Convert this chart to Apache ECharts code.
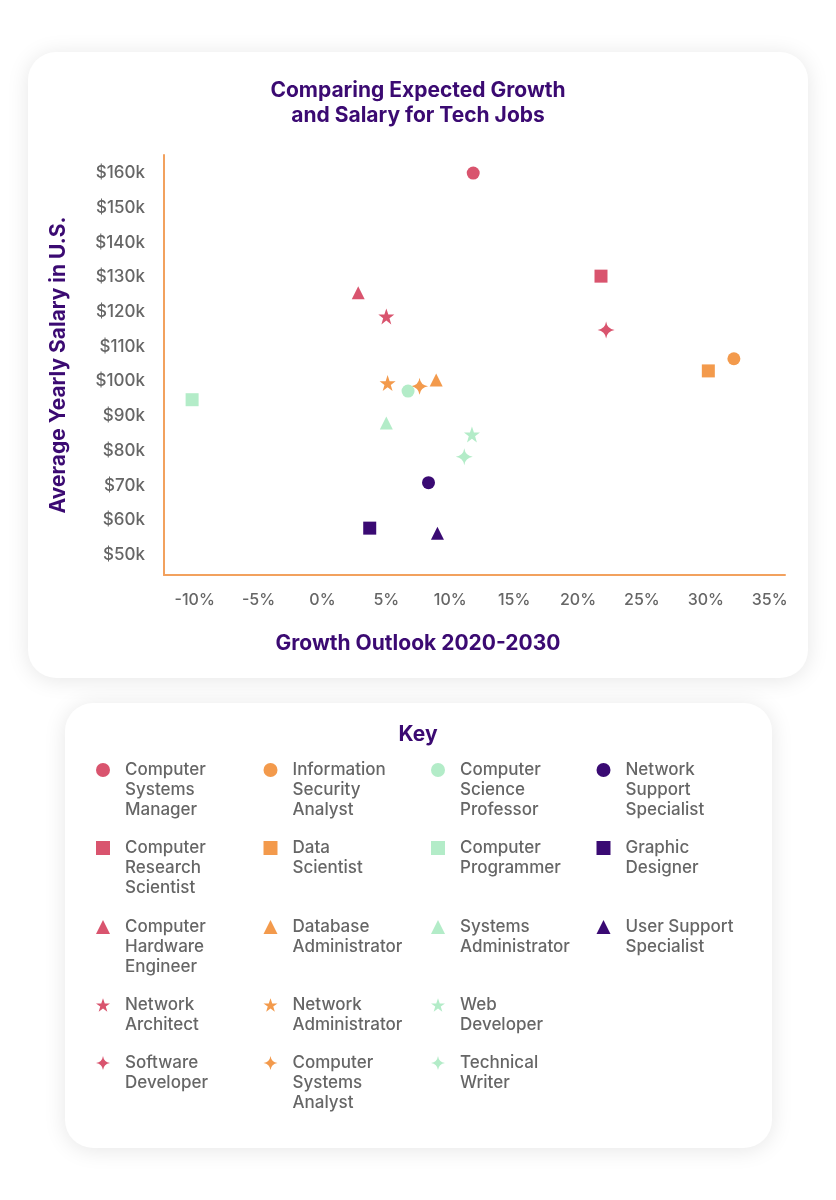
<!DOCTYPE html>
<html lang="en">
<head>
<meta charset="UTF-8">
<title>Comparing Expected Growth and Salary for Tech Jobs</title>
<style>
body { margin: 0; background: #fff; }
#chart { width: 836px; height: 1200px; }
</style>
</head>
<body>
<div id="chart"></div>
<script src="https://cdn.jsdelivr.net/npm/echarts@6/dist/echarts.min.js"></script>
<script>
// jobs, growth outlook 2020-2030 (%) and average yearly salary (thousand $)
var jobs = [
    'Computer Systems Manager', 'Computer Research Scientist', 'Computer Hardware Engineer', 'Network Architect', 'Software Developer',
    'Information Security Analyst', 'Data Scientist', 'Database Administrator', 'Network Administrator', 'Computer Systems Analyst',
    'Computer Science Professor', 'Computer Programmer', 'Systems Administrator', 'Web Developer', 'Technical Writer',
    'Network Support Specialist', 'Graphic Designer', 'User Support Specialist'
];
var keyLabels = [
    'Computer\nSystems\nManager', 'Computer\nResearch\nScientist', 'Computer\nHardware\nEngineer', 'Network\nArchitect', 'Software\nDeveloper',
    'Information\nSecurity\nAnalyst', 'Data\nScientist', 'Database\nAdministrator', 'Network\nAdministrator', 'Computer\nSystems\nAnalyst',
    'Computer\nScience\nProfessor', 'Computer\nProgrammer', 'Systems\nAdministrator', 'Web\nDeveloper', 'Technical\nWriter',
    'Network\nSupport\nSpecialist', 'Graphic\nDesigner', 'User Support\nSpecialist'
];
var growth = [11.8, 21.8, 2.8, 5.0, 22.2, 32.2, 30.2, 8.9, 5.1, 7.6, 6.7, -10.2, 5.0, 11.7, 11.1, 8.3, 3.7, 9.0];
var salary = [160, 130.3, 125.5, 118.7, 114.8, 106.5, 103.0, 100.4, 99.5, 98.6, 97.2, 94.7, 88.0, 84.7, 78.3, 70.8, 57.7, 56.2];
var xTicks = [-10, -5, 0, 5, 10, 15, 20, 25, 30, 35];
var yTicks = [50, 60, 70, 80, 90, 100, 110, 120, 130, 140, 150, 160];

// styling: colour group and marker per job
var jobColor = [0, 0, 0, 0, 0, 1, 1, 1, 1, 1, 2, 2, 2, 2, 2, 3, 3, 3];
var jobShape = [0, 1, 2, 3, 4, 0, 1, 2, 3, 4, 0, 1, 2, 3, 4, 0, 1, 2];
var palette = ['#d9546e', '#f39a4c', '#b3ecc8', '#3a0a73'];
var STAR = 'path://M50,0 L61.8,34.5 L97.6,34.5 L68.8,55.9 L79.4,90.5 L50,69.1 L20.6,90.5 L31.2,55.9 L2.4,34.5 L38.2,34.5 Z';
var SPARK = 'path://M50,0 Q56,44 100,50 Q56,56 50,100 Q44,56 0,50 Q44,44 50,0 Z';
var shapes = ['circle', 'rect', 'triangle', STAR, SPARK];
var shapeSize = [13, 13, 13, 16, 17];

var purple = '#3b0a72';
var grey = '#666666';
var font = 'Inter, "Noto Sans", sans-serif';

// key layout
var keyIconX = [103, 270.5, 438, 603.5];
var keyRowY = [770, 848, 927, 1005, 1063];

var series = [];
var legends = [];
for (var i = 0; i < jobs.length; i++) {
    series.push({
        name: jobs[i],
        type: 'scatter',
        data: [[growth[i], salary[i]]],
        symbol: shapes[jobShape[i]],
        symbolSize: shapeSize[jobShape[i]],
        itemStyle: { color: palette[jobColor[i]], opacity: 1 }
    });
    var lines = keyLabels[i].split('\n').length;
    legends.push({
        data: [jobs[i]],
        left: keyIconX[jobColor[i]] - 7,
        top: keyRowY[jobShape[i]] - 20 * lines + 10,
        padding: 0,
        itemWidth: 14,
        itemHeight: 14,
        selectedMode: false,
        // blank lines on top keep the icon beside the first line of the label
        formatter: function (name) {
            var label = keyLabels[jobs.indexOf(name)];
            var n = label.split('\n').length;
            return new Array(n).join('\n') + label;
        },
        textStyle: {
            color: grey, fontFamily: font, fontSize: 17, fontWeight: 500,
            lineHeight: 20, padding: [0, 0, 0, 10]
        }
    });
}

var chart = echarts.init(document.getElementById('chart'));
chart.setOption({
    backgroundColor: '#ffffff',
    animation: false,
    graphic: [
        {
            type: 'rect', z: -10, silent: true,
            shape: { x: 28, y: 52, width: 780, height: 626, r: 28 },
            style: { fill: '#fff', shadowBlur: 22, shadowColor: 'rgba(0,0,0,0.10)', shadowOffsetY: 2 }
        },
        {
            type: 'rect', z: -10, silent: true,
            shape: { x: 65, y: 703, width: 707, height: 445, r: 28 },
            style: { fill: '#fff', shadowBlur: 22, shadowColor: 'rgba(0,0,0,0.10)', shadowOffsetY: 2 }
        }
    ],
    title: [
        {
            text: 'Comparing Expected Growth\nand Salary for Tech Jobs',
            left: 'center', top: 78, padding: 0,
            textStyle: { color: purple, fontFamily: font, fontSize: 21, fontWeight: 700, lineHeight: 25 }
        },
        {
            text: 'Growth Outlook 2020-2030',
            left: 'center', top: 632, padding: 0,
            textStyle: { color: purple, fontFamily: font, fontSize: 21, fontWeight: 700, lineHeight: 24 }
        },
        {
            text: 'Key',
            left: 'center', top: 722, padding: 0,
            textStyle: { color: purple, fontFamily: font, fontSize: 21, fontWeight: 700, lineHeight: 25 }
        }
    ],
    grid: { left: 164, right: 51, top: 155, bottom: 625 },
    xAxis: {
        type: 'value',
        min: -12.4,
        max: 36.2,
        splitLine: { show: false },
        axisTick: { show: false },
        axisLine: { lineStyle: { color: '#f2a15e', width: 2 } },
        axisLabel: {
            customValues: xTicks,
            margin: 17,
            color: grey, fontFamily: font, fontSize: 16, fontWeight: 500,
            formatter: function (v) { return v + '%'; }
        }
    },
    yAxis: {
        type: 'value',
        min: 44.2,
        max: 165.2,
        name: 'Average Yearly Salary in U.S.',
        nameLocation: 'middle',
        nameRotate: 90,
        nameGap: 95,
        nameTextStyle: { color: purple, fontFamily: font, fontSize: 21, fontWeight: 700 },
        splitLine: { show: false },
        axisTick: { show: false },
        axisLine: { show: true, onZero: false, lineStyle: { color: '#f2a15e', width: 2 } },
        axisLabel: {
            customValues: yTicks,
            margin: 19,
            color: grey, fontFamily: font, fontSize: 17, fontWeight: 500,
            formatter: function (v) { return '$' + v + 'k'; }
        }
    },
    legend: legends,
    series: series
});
</script>
</body>
</html>
